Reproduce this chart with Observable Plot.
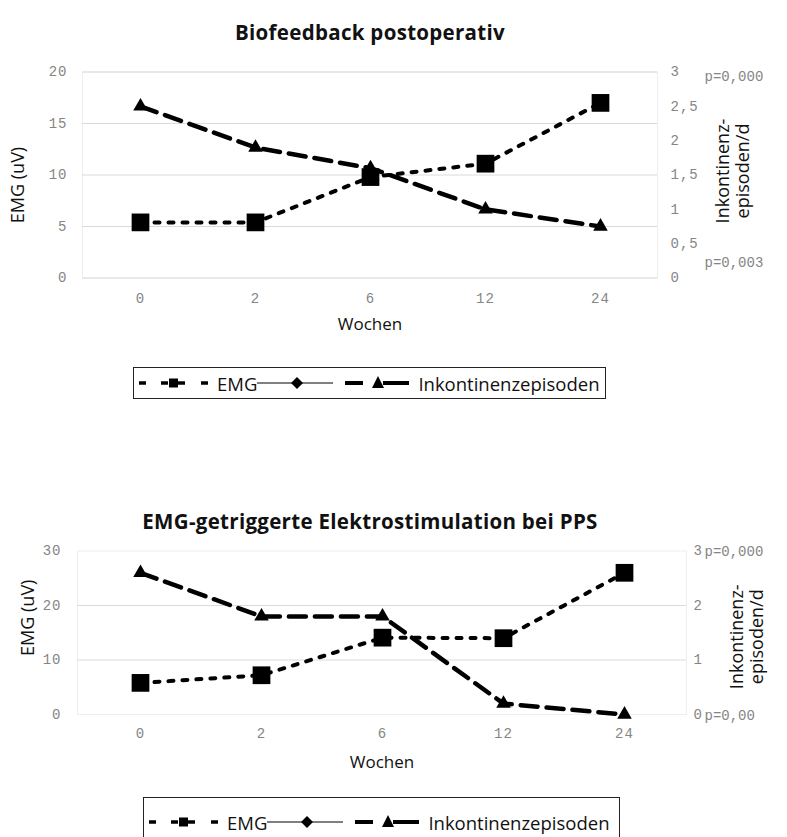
<!DOCTYPE html>
<html>
<head>
<meta charset="utf-8">
<script src="https://cdn.jsdelivr.net/npm/d3@7"></script>
<script src="https://cdn.jsdelivr.net/npm/@observablehq/plot@0.6"></script>
<style>
  html, body { margin: 0; padding: 0; background: #fff; }
  body { width: 787px; height: 837px; position: relative; overflow: hidden; font-family: "Open Sans", sans-serif; color: #111; }
  .title { position: absolute; left: 0; width: 740px; text-align: center; font-weight: bold; font-size: 20.5px; letter-spacing: 0.3px; line-height: 26px; }
  .chart { position: absolute; left: 0; }
  .legend { position: absolute; border: 1px solid #222; box-sizing: border-box; display: flex; align-items: center; font-size: 18.5px; white-space: nowrap; }
  .legend svg { display: block; flex: none; }
  .legend span { flex: none; }
  g[aria-label="x-axis tick label"] text, g[aria-label="y-axis tick label"] text { letter-spacing: 1px; }
  g[aria-label="p-label-1"] text { letter-spacing: 1.2px; }
  g[aria-label="p-label-2"] text { letter-spacing: 2.2px; }
</style>
</head>
<body>
<script>
// ---------- data ----------
const weeks = ["0", "2", "6", "12", "24"];

const title1 = "Biofeedback postoperativ";
const emg1 = [5.4, 5.4, 9.8, 11.1, 17.0];
const ink1 = [2.5, 1.9, 1.6, 1.0, 0.75];
const leftTicks1 = [0, 5, 10, 15, 20];
const rightTicks1 = [0, 0.5, 1, 1.5, 2, 2.5, 3];
const pLabels1 = ["p=0,000", "p=0,003"];

const title2 = "EMG-getriggerte Elektrostimulation bei PPS";
const emg2 = [5.8, 7.2, 14.1, 14.0, 26.0];
const ink2 = [2.6, 1.8, 1.8, 0.2, 0.0];
const leftTicks2 = [0, 10, 20, 30];
const rightTicks2 = [0, 1, 2, 3];
const pLabels2 = ["p=0,000", "p=0,00"];

const xLabel = "Wochen";
const yLabel = "EMG (uV)";
const y2Label = "Inkontinenz-\nepisoden/d";
const seriesNames = ["EMG", "", "Inkontinenzepisoden"];

// ---------- helpers ----------
const mono = "Liberation Mono, DejaVu Sans Mono, monospace";
const sans = "Open Sans, sans-serif";
const tickColor = "#858585";
const fmt = v => String(Math.round(v * 10) / 10).replace(".", ",");

function makeChart(o) {
  const k = o.yMax / o.rMax;
  const emg = weeks.map((w, i) => ({w, v: o.emg[i]}));
  const ink = weeks.map((w, i) => ({w, v: o.ink[i]}));
  const yInk = d => d.v * k;
  return Plot.plot({
    width: 787,
    height: o.height,
    marginLeft: o.ml, marginRight: o.mr, marginTop: o.mt, marginBottom: o.mb,
    style: {background: "transparent", overflow: "visible"},
    x: {type: "point", domain: weeks, padding: 0.5, axis: null},
    y: {domain: [0, o.yMax], axis: null},
    marks: [
      Plot.frame({stroke: "#eeeeee"}),
      Plot.gridY(o.grid, {stroke: "#dadada", strokeOpacity: 1}),
      Plot.axisY(o.leftTicks, {anchor: "left", tickSize: 0, tickPadding: o.ltp, label: null,
        fontFamily: mono, fontSize: 14, color: tickColor, tickFormat: d => String(d)}),
      Plot.axisY(o.rightTicks.map(v => v * k), {anchor: "right", tickSize: 0, tickPadding: o.rtp, label: null,
        fontFamily: mono, fontSize: 14, color: tickColor, tickFormat: d => fmt(d / k)}),
      Plot.axisX(weeks, {anchor: "bottom", tickSize: 0, tickPadding: o.xtp, label: null,
        fontFamily: mono, fontSize: 14, color: tickColor}),
      Plot.text([xLabel], {text: d => d, frameAnchor: "bottom", dy: o.xlDy, lineAnchor: "middle",
        fontFamily: sans, fontSize: 17, fill: "#111"}),
      Plot.text([yLabel], {text: d => d, frameAnchor: "left", rotate: -90, dx: o.ylDx, dy: o.ylDy,
        textAnchor: "middle", lineAnchor: "middle", fontFamily: sans, fontSize: 18, fill: "#111"}),
      Plot.text([y2Label], {text: d => d, frameAnchor: "right", rotate: -90, dx: o.y2Dx, dy: o.y2Dy,
        textAnchor: "middle", lineAnchor: "middle", lineHeight: 1.1, fontFamily: sans, fontSize: 18, fill: "#111"}),
      Plot.text([o.p[0]], {text: d => d, frameAnchor: "top-right", textAnchor: "start", lineAnchor: "middle",
        dx: o.pDx, dy: o.pTopDy, fontFamily: mono, fontSize: 14, fill: tickColor, ariaLabel: o.pAria}),
      Plot.text([o.p[1]], {text: d => d, frameAnchor: "bottom-right", textAnchor: "start", lineAnchor: "middle",
        dx: o.pDx, dy: o.pBotDy, fontFamily: mono, fontSize: 14, fill: tickColor, ariaLabel: o.pAria}),
      Plot.line(emg, {x: "w", y: "v", stroke: "#000", strokeWidth: 4, strokeDasharray: "5,9"}),
      Plot.line(ink, {x: "w", y: yInk, stroke: "#000", strokeWidth: 4.5, strokeDasharray: "17,9"}),
      Plot.dot(ink, {x: "w", y: yInk, symbol: "triangle", r: 5.4, fill: "#000"}),
      Plot.dot(emg, {x: "w", y: "v", symbol: "square", r: 10, fill: "#000"})
    ]
  });
}

function makeLegend(left, top, width, height) {
  const div = document.createElement("div");
  div.className = "legend";
  Object.assign(div.style, {left: left + "px", top: top + "px", width: width + "px", height: height + "px"});
  const ns = "http://www.w3.org/2000/svg";
  function svg(w, build, ml) {
    const s = document.createElementNS(ns, "svg");
    s.setAttribute("width", w); s.setAttribute("height", 20);
    s.style.marginLeft = (ml || 0) + "px";
    s.innerHTML = build(w);
    return s;
  }
  function span(t, ml) {
    const s = document.createElement("span");
    s.textContent = t; s.style.marginLeft = (ml || 0) + "px";
    return s;
  }
  // dotted EMG sample: - -■- -
  div.appendChild(svg(70, w =>
    [[0, 7], [22, 29], [39, 46], [62, 69]].map(([a, b]) =>
      `<line x1="${a}" y1="10" x2="${b}" y2="10" stroke="#000" stroke-width="3.5"/>`).join("") +
    `<rect x="30" y="5.5" width="9" height="9" fill="#000"/>`, 5));
  div.appendChild(span(seriesNames[0], 8));
  // thin line with diamond
  div.appendChild(svg(76, w => `<line x1="0" y1="10" x2="${w}" y2="10" stroke="#000" stroke-width="1"/>` +
    `<path d="M${w/2+2},4 L${w/2+8},10 L${w/2+2},16 L${w/2-4},10 Z" fill="#000"/>`, 0));
  // long dash with triangle
  div.appendChild(svg(64, w => `<line x1="0" y1="10" x2="18" y2="10" stroke="#000" stroke-width="4"/>` +
    `<line x1="38" y1="10" x2="${w}" y2="10" stroke="#000" stroke-width="4"/>` +
    `<path d="M33,3 L39,15 L27,15 Z" fill="#000"/>`, 12));
  div.appendChild(span(seriesNames[2], 9));
  return div;
}

function addTitle(text, top) {
  const t = document.createElement("div");
  t.className = "title";
  t.textContent = text;
  t.style.top = top + "px";
  document.body.appendChild(t);
}

function place(el, top) {
  const wrap = document.createElement("div");
  wrap.className = "chart";
  wrap.style.top = top + "px";
  wrap.appendChild(el);
  document.body.appendChild(wrap);
}

// ---------- chart 1 ----------
addTitle(title1, 19);
place(makeChart({
  emg: emg1, ink: ink1, yMax: 20, rMax: 3,
  leftTicks: leftTicks1, rightTicks: rightTicks1, grid: leftTicks1, p: pLabels1, pAria: "p-label-1",
  height: 300, ml: 82, mr: 130, mt: 26.5, mb: 67.5,
  ltp: 15, rtp: 13, xtp: 15,
  xlDy: 47, ylDx: -64, ylDy: 10, y2Dx: 75, y2Dy: -4,
  pDx: 47, pTopDy: 4.5, pBotDy: -15.5
}), 45);
document.body.appendChild(makeLegend(133, 367, 473, 32));

// ---------- chart 2 ----------
addTitle(title2, 508);
place(makeChart({
  emg: emg2, ink: ink2, yMax: 30, rMax: 3,
  leftTicks: leftTicks2, rightTicks: rightTicks2, grid: [10, 20], p: pLabels2, pAria: "p-label-2",
  height: 250, ml: 77, mr: 101, mt: 20.5, mb: 66,
  ltp: 16, rtp: 7, xtp: 14,
  xlDy: 48, ylDx: -49, ylDy: -15, y2Dx: 60, y2Dy: 4,
  pDx: 18, pTopDy: 0.5, pBotDy: 1
}), 530);
document.body.appendChild(makeLegend(143, 797, 477, 50));
</script>
</body>
</html>
